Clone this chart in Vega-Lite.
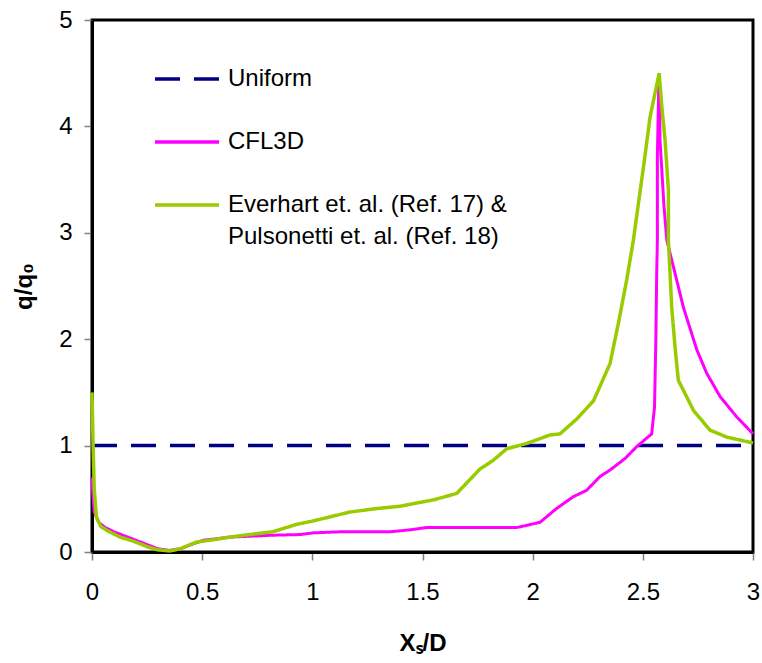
{
  "$schema": "https://vega.github.io/schema/vega-lite/v6.json",
  "width": 661,
  "height": 532,
  "autosize": {"type": "none"},
  "padding": {"left": 92, "top": 20, "right": 9, "bottom": 111},
  "config": {
    "view": {"stroke": "black", "strokeWidth": 3},
    "font": "Liberation Sans",
    "axis": {
      "grid": false,
      "domainColor": "black",
      "domainWidth": 3,
      "tickColor": "#808080",
      "tickWidth": 1.5,
      "tickSize": 8,
      "labelFlush": false,
      "labelFont": "Liberation Sans",
      "labelFontSize": 24,
      "labelColor": "black",
      "titleFont": "Liberation Sans",
      "titleFontSize": 24,
      "titleFontWeight": "bold",
      "titleColor": "black"
    }
  },
  "data": {
    "values": [
      {"series": "Uniform", "i": 0, "x": 0, "y": 1},
      {"series": "Uniform", "i": 1, "x": 3, "y": 1},

      {"series": "CFL3D", "i": 0, "x": 0, "y": 0.7},
      {"series": "CFL3D", "i": 1, "x": 0.005, "y": 0.5},
      {"series": "CFL3D", "i": 2, "x": 0.01, "y": 0.38},
      {"series": "CFL3D", "i": 3, "x": 0.03, "y": 0.28},
      {"series": "CFL3D", "i": 4, "x": 0.06, "y": 0.23},
      {"series": "CFL3D", "i": 5, "x": 0.1, "y": 0.19},
      {"series": "CFL3D", "i": 6, "x": 0.15, "y": 0.15},
      {"series": "CFL3D", "i": 7, "x": 0.2, "y": 0.11},
      {"series": "CFL3D", "i": 8, "x": 0.25, "y": 0.07},
      {"series": "CFL3D", "i": 9, "x": 0.3, "y": 0.03},
      {"series": "CFL3D", "i": 10, "x": 0.35, "y": 0.015},
      {"series": "CFL3D", "i": 11, "x": 0.4, "y": 0.03},
      {"series": "CFL3D", "i": 12, "x": 0.45, "y": 0.07},
      {"series": "CFL3D", "i": 13, "x": 0.505, "y": 0.11},
      {"series": "CFL3D", "i": 14, "x": 0.626, "y": 0.14},
      {"series": "CFL3D", "i": 15, "x": 0.808, "y": 0.157},
      {"series": "CFL3D", "i": 16, "x": 0.944, "y": 0.164},
      {"series": "CFL3D", "i": 17, "x": 1.005, "y": 0.18},
      {"series": "CFL3D", "i": 18, "x": 1.126, "y": 0.19},
      {"series": "CFL3D", "i": 19, "x": 1.353, "y": 0.19},
      {"series": "CFL3D", "i": 20, "x": 1.45, "y": 0.21},
      {"series": "CFL3D", "i": 21, "x": 1.519, "y": 0.23},
      {"series": "CFL3D", "i": 22, "x": 1.928, "y": 0.23},
      {"series": "CFL3D", "i": 23, "x": 1.973, "y": 0.25},
      {"series": "CFL3D", "i": 24, "x": 2.034, "y": 0.28},
      {"series": "CFL3D", "i": 25, "x": 2.109, "y": 0.41},
      {"series": "CFL3D", "i": 26, "x": 2.185, "y": 0.52},
      {"series": "CFL3D", "i": 27, "x": 2.245, "y": 0.58},
      {"series": "CFL3D", "i": 28, "x": 2.306, "y": 0.71},
      {"series": "CFL3D", "i": 29, "x": 2.351, "y": 0.77},
      {"series": "CFL3D", "i": 30, "x": 2.42, "y": 0.88},
      {"series": "CFL3D", "i": 31, "x": 2.472, "y": 0.99},
      {"series": "CFL3D", "i": 32, "x": 2.54, "y": 1.11},
      {"series": "CFL3D", "i": 33, "x": 2.553, "y": 1.36},
      {"series": "CFL3D", "i": 34, "x": 2.559, "y": 1.99},
      {"series": "CFL3D", "i": 35, "x": 2.563, "y": 2.62},
      {"series": "CFL3D", "i": 36, "x": 2.566, "y": 2.93},
      {"series": "CFL3D", "i": 37, "x": 2.566, "y": 3.72},
      {"series": "CFL3D", "i": 38, "x": 2.572, "y": 4.34},
      {"series": "CFL3D", "i": 39, "x": 2.575, "y": 4.47},
      {"series": "CFL3D", "i": 40, "x": 2.578, "y": 3.87},
      {"series": "CFL3D", "i": 41, "x": 2.596, "y": 3.25},
      {"series": "CFL3D", "i": 42, "x": 2.609, "y": 2.93},
      {"series": "CFL3D", "i": 43, "x": 2.646, "y": 2.62},
      {"series": "CFL3D", "i": 44, "x": 2.684, "y": 2.3},
      {"series": "CFL3D", "i": 45, "x": 2.745, "y": 1.9},
      {"series": "CFL3D", "i": 46, "x": 2.79, "y": 1.68},
      {"series": "CFL3D", "i": 47, "x": 2.851, "y": 1.46},
      {"series": "CFL3D", "i": 48, "x": 2.926, "y": 1.27},
      {"series": "CFL3D", "i": 49, "x": 3.0, "y": 1.11},

      {"series": "Everhart", "i": 0, "x": 0, "y": 1.5},
      {"series": "Everhart", "i": 1, "x": 0.005, "y": 1.0},
      {"series": "Everhart", "i": 2, "x": 0.01, "y": 0.6},
      {"series": "Everhart", "i": 3, "x": 0.02, "y": 0.33},
      {"series": "Everhart", "i": 4, "x": 0.04, "y": 0.24},
      {"series": "Everhart", "i": 5, "x": 0.07, "y": 0.2},
      {"series": "Everhart", "i": 6, "x": 0.127, "y": 0.14},
      {"series": "Everhart", "i": 7, "x": 0.19, "y": 0.1},
      {"series": "Everhart", "i": 8, "x": 0.25, "y": 0.05},
      {"series": "Everhart", "i": 9, "x": 0.3, "y": 0.02},
      {"series": "Everhart", "i": 10, "x": 0.354, "y": 0.01},
      {"series": "Everhart", "i": 11, "x": 0.4, "y": 0.03},
      {"series": "Everhart", "i": 12, "x": 0.475, "y": 0.094},
      {"series": "Everhart", "i": 13, "x": 0.55, "y": 0.115},
      {"series": "Everhart", "i": 14, "x": 0.626, "y": 0.14},
      {"series": "Everhart", "i": 15, "x": 0.7, "y": 0.16},
      {"series": "Everhart", "i": 16, "x": 0.778, "y": 0.18},
      {"series": "Everhart", "i": 17, "x": 0.82, "y": 0.19},
      {"series": "Everhart", "i": 18, "x": 0.929, "y": 0.26},
      {"series": "Everhart", "i": 19, "x": 1.0, "y": 0.29},
      {"series": "Everhart", "i": 20, "x": 1.08, "y": 0.33},
      {"series": "Everhart", "i": 21, "x": 1.171, "y": 0.376},
      {"series": "Everhart", "i": 22, "x": 1.3, "y": 0.41},
      {"series": "Everhart", "i": 23, "x": 1.398, "y": 0.43},
      {"series": "Everhart", "i": 24, "x": 1.55, "y": 0.49},
      {"series": "Everhart", "i": 25, "x": 1.655, "y": 0.55},
      {"series": "Everhart", "i": 26, "x": 1.761, "y": 0.78},
      {"series": "Everhart", "i": 27, "x": 1.82, "y": 0.86},
      {"series": "Everhart", "i": 28, "x": 1.882, "y": 0.97},
      {"series": "Everhart", "i": 29, "x": 1.973, "y": 1.02},
      {"series": "Everhart", "i": 30, "x": 2.079, "y": 1.1},
      {"series": "Everhart", "i": 31, "x": 2.124, "y": 1.11},
      {"series": "Everhart", "i": 32, "x": 2.2, "y": 1.25},
      {"series": "Everhart", "i": 33, "x": 2.276, "y": 1.42},
      {"series": "Everhart", "i": 34, "x": 2.351, "y": 1.77},
      {"series": "Everhart", "i": 35, "x": 2.389, "y": 2.15},
      {"series": "Everhart", "i": 36, "x": 2.427, "y": 2.56},
      {"series": "Everhart", "i": 37, "x": 2.457, "y": 2.93},
      {"series": "Everhart", "i": 38, "x": 2.503, "y": 3.62},
      {"series": "Everhart", "i": 39, "x": 2.533, "y": 4.09},
      {"series": "Everhart", "i": 40, "x": 2.574, "y": 4.5},
      {"series": "Everhart", "i": 41, "x": 2.586, "y": 4.19},
      {"series": "Everhart", "i": 42, "x": 2.601, "y": 3.87},
      {"series": "Everhart", "i": 43, "x": 2.616, "y": 3.4},
      {"series": "Everhart", "i": 44, "x": 2.616, "y": 2.93},
      {"series": "Everhart", "i": 45, "x": 2.631, "y": 2.3},
      {"series": "Everhart", "i": 46, "x": 2.646, "y": 1.93},
      {"series": "Everhart", "i": 47, "x": 2.661, "y": 1.615},
      {"series": "Everhart", "i": 48, "x": 2.73, "y": 1.33},
      {"series": "Everhart", "i": 49, "x": 2.805, "y": 1.145},
      {"series": "Everhart", "i": 50, "x": 2.881, "y": 1.08},
      {"series": "Everhart", "i": 51, "x": 3.0, "y": 1.025}
    ]
  },
  "encoding": {
    "x": {
      "field": "x", "type": "quantitative",
      "scale": {"domain": [0, 3], "nice": false, "zero": false},
      "axis": {"values": [0, 0.5, 1, 1.5, 2, 2.5, 3], "format": "~g", "title": "Xₛ/D", "labelPadding": 20, "titlePadding": 27}
    },
    "y": {
      "field": "y", "type": "quantitative",
      "scale": {"domain": [0, 5], "nice": false},
      "axis": {"values": [0, 1, 2, 3, 4, 5], "title": "q/q₀", "labelPadding": 12, "titlePadding": 22}
    },
    "order": {"field": "i", "type": "quantitative"},
    "color": {
      "field": "series", "type": "nominal",
      "scale": {"domain": ["Uniform", "CFL3D", "Everhart"], "range": ["#000080", "#FF00FF", "#99CC00"]},
      "legend": {
        "title": null, "orient": "none", "legendX": 61, "legendY": 25,
        "symbolType": "stroke", "symbolSize": 4096, "symbolStrokeWidth": 3.5,
        "labelFont": "Liberation Sans", "labelFontSize": 24, "labelColor": "black",
        "labelOffset": 7, "labelLimit": 0, "rowPadding": 17, "padding": 0,
        "labelBaseline": "middle",
        "labelExpr": "datum.label == 'Everhart' ? ['Everhart et. al. (Ref. 17) &', 'Pulsonetti et. al. (Ref. 18)'] : datum.label",
        "encode": {"labels": {"update": {"lineHeight": {"value": 32}}}}
      }
    },
    "strokeDash": {
      "field": "series", "type": "nominal",
      "scale": {"domain": ["Uniform", "CFL3D", "Everhart"], "range": [[25, 14], [1, 0], [1, 0]]},
      "legend": {
        "title": null, "orient": "none", "legendX": 61, "legendY": 25,
        "symbolType": "stroke", "symbolSize": 4096, "symbolStrokeWidth": 3.5,
        "labelFont": "Liberation Sans", "labelFontSize": 24, "labelColor": "black",
        "labelOffset": 7, "labelLimit": 0, "rowPadding": 17, "padding": 0,
        "labelBaseline": "middle",
        "labelExpr": "datum.label == 'Everhart' ? ['Everhart et. al. (Ref. 17) &', 'Pulsonetti et. al. (Ref. 18)'] : datum.label",
        "encode": {"labels": {"update": {"lineHeight": {"value": 32}}}}
      }
    }
  },
  "layer": [
    {"transform": [{"filter": "datum.series == 'Uniform'"}], "mark": {"type": "line", "strokeWidth": 3.5}},
    {"transform": [{"filter": "datum.series == 'CFL3D'"}], "mark": {"type": "line", "strokeWidth": 3}},
    {"transform": [{"filter": "datum.series == 'Everhart'"}], "mark": {"type": "line", "strokeWidth": 3.5}}
  ]
}
